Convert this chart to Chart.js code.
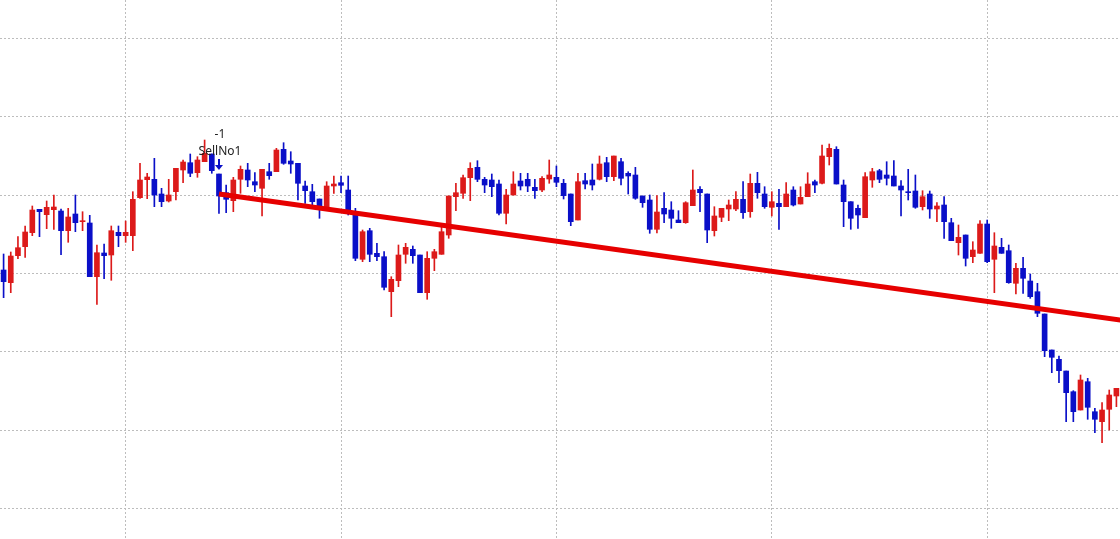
<!DOCTYPE html>
<html lang="en">
<head>
<meta charset="UTF-8">
<title>Candles</title>
<script src="https://cdn.jsdelivr.net/npm/chart.js"></script>
<style>
    html, body { margin: 0; padding: 0; background: #fff; }
    .wrap { width: 1120px; height: 539px; position: relative; }
</style>
</head>
<body>
<div class="wrap"><canvas id="candles"></canvas></div>
<script>
    // bar data (price units, 156 bars)
    const opens = [
        269, 256.3, 283.3, 292.3, 306.3, 329.7, 324.3, 329.3, 328, 308.3,
        325, 317.3, 316, 262.3, 286, 284, 306.7, 303.3, 303.3, 341.3,
        359.3, 359.7, 345, 338, 347.3, 369, 376.3, 366.3, 377.3, 385,
        365, 346.3, 338.3, 359.7, 369, 357.3, 350.7, 367.3, 367.3, 389.7,
        378, 375.7, 353, 347.3, 340, 330.7, 353, 356.3, 349, 324,
        279.7, 308.3, 285.7, 282.3, 247.3, 258.3, 284.7, 289.7, 284, 246.3,
        280.7, 284.7, 304, 342.3, 345.7, 361.3, 371.7, 359.7, 359, 355,
        325.7, 344, 358, 359.7, 351.7, 349, 360, 361.7, 355.7, 345,
        319, 358.3, 359, 359.7, 376.3, 362.3, 377.3, 365.7, 364, 343,
        339, 309.7, 330.7, 329, 319, 316.3, 333.3, 349.7, 345, 308.3,
        321.7, 330, 330, 339.7, 327.3, 355.7, 345, 331.7, 335.7, 332.3,
        349, 335, 342.3, 357.3, 355.7, 382.3, 389.7, 354, 337.3, 330.7,
        321.3, 359, 368.3, 364, 363, 353, 347, 348, 332.3, 345,
        330, 334, 316.3, 296.3, 304, 282.3, 285.7, 315, 279.7, 291.7,
        288.3, 255.7, 270.7, 258, 247.3, 225, 189, 179.7, 168, 147.3,
        129, 157.3, 127.3, 117.3, 129.7, 143
    ];
    const highs = [
        285, 287, 302.3, 313, 333, 329.7, 338, 344, 330, 330.7,
        344, 327.3, 323.7, 294, 295, 313, 313, 318, 347.3, 375.7,
        365.7, 380.7, 350.7, 359.7, 370.7, 379, 385, 382.3, 399, 385,
        365, 354, 361.7, 373, 375.7, 366.3, 369.7, 375.7, 390.7, 396.3,
        387.3, 375.7, 358, 354.7, 340, 357.3, 363, 363, 363, 330.7,
        309, 310.7, 295.7, 287.3, 262.3, 294, 295.7, 293, 284, 287.3,
        289.7, 313, 343, 355.7, 364, 376.3, 378.3, 361.7, 365, 359,
        349.7, 367.3, 365.7, 365.7, 359.7, 362.3, 379, 373, 359.7, 345,
        365.7, 365.7, 375, 383, 381.7, 383, 380.7, 367.3, 371.7, 343,
        344, 343.5, 346.3, 337.3, 328.3, 337.3, 369, 352.3, 345, 332.3,
        330.7, 339, 347.3, 357.3, 365, 366.7, 352.3, 347.3, 349.7, 356.3,
        352.3, 352.3, 366.3, 359, 394, 395, 392.3, 359, 337.3, 334,
        366.3, 370.7, 369.7, 377.3, 378.3, 358.3, 369.7, 364, 348.3, 348,
        336.3, 342.3, 320.7, 314, 304, 297.3, 318.3, 319, 306.3, 300.7,
        294, 275.7, 281.7, 265, 255.7, 225, 189, 183, 168, 148.3,
        164, 160.7, 130.7, 136.3, 149, 150.7
    ];
    const lows = [
        241.3, 246.3, 280.3, 281.7, 303.3, 302.3, 310.3, 309.7, 284.3, 296.7,
        307.3, 308.3, 262.3, 234.7, 260.3, 258.7, 292.3, 296.7, 288.3, 340.7,
        340.3, 332.3, 332.3, 337, 339, 356.3, 362.3, 361.7, 377.3, 365.7,
        325.7, 326.3, 327.3, 345.7, 352.3, 347.3, 323, 359.7, 367.3, 374.7,
        365.7, 339, 335.7, 334, 320.7, 329, 345.7, 346.3, 324, 278.3,
        277.3, 277.3, 278.3, 249, 222.3, 252.3, 275.7, 275.7, 246.3, 239.7,
        268.3, 284.7, 300.7, 328.3, 340.7, 338.3, 357.3, 346.3, 342.3, 324,
        315, 344, 349, 347.3, 340.7, 347.3, 355.7, 352.3, 340, 313.3,
        319, 350, 349, 359, 357.3, 358.3, 354, 345, 339.7, 331.7,
        305.7, 306, 316.3, 310.7, 316.3, 315.7, 333.3, 327.3, 296.3, 303,
        317.3, 318.3, 328.3, 320.7, 321.7, 340.7, 330.7, 323, 309.7, 332.3,
        333, 335, 342.3, 346.3, 355, 374, 355, 312.3, 309.7, 310.7,
        321.3, 351.7, 356.3, 354, 353, 323, 339, 330.7, 329, 320.7,
        317.3, 300.7, 298.3, 284, 273, 276.3, 285.7, 276.3, 246.3, 285.7,
        255.7, 245, 245.7, 240.7, 222.3, 182.3, 166.3, 156.3, 117.3, 117.3,
        129, 119.7, 106.3, 96.3, 109, 132.3
    ];
    const closes = [
        257.3, 283, 291.3, 307, 329, 327.3, 331.7, 332, 308.3, 322,
        316.3, 318.3, 262.3, 286.3, 283.3, 308.3, 303.3, 306.7, 339.7, 359,
        362, 344, 337.3, 344, 370.7, 377, 365.7, 379, 385.7, 368.3,
        343, 339.7, 359, 369.7, 359, 354, 369.7, 363.3, 389, 375.7,
        375, 355.7, 348.3, 337.3, 333, 353, 355, 353.7, 325.7, 280.7,
        307.3, 284.7, 282.3, 251.7, 259.7, 284, 291.7, 283.3, 246.3, 280.7,
        287.3, 307.3, 343, 346.3, 361.3, 370.7, 359.7, 354, 352.3, 325.7,
        344, 355, 353, 353, 348.3, 360.7, 364, 356.7, 343.3, 317.3,
        357.3, 355, 354, 375, 362.3, 383, 360.7, 363, 340.7, 336.3,
        309.7, 327, 325, 320.7, 316.3, 336.3, 349, 346.3, 309, 323,
        330.7, 334, 339.7, 326.3, 355.7, 346.3, 332.3, 337.3, 332.3, 345,
        334, 341.7, 355, 354, 383, 390.7, 355, 337.3, 320.7, 324,
        362.3, 367.3, 359.7, 360.7, 353, 349, 346.3, 331.7, 342.3, 330,
        333, 317.3, 298.3, 301.7, 280.7, 289, 315, 277.3, 293, 285.7,
        256.3, 270.7, 260.7, 242.3, 225.7, 188.3, 181.7, 168.3, 146.3, 127.3,
        159, 131.7, 119.7, 129, 144, 150.7
    ];

    // trend line (bar index, price) and the signal mark
    const trendLine = [{ x: 30, y: 345 }, { x: 156, y: 218.5 }];
    const signalBar = 30;
    const signalText = ['-1', 'SellNo1'];

    // grid positions
    const xGridAt = [17, 47, 77, 107, 137];
    const yGridAt = [30.7, 109, 187.3, 265.7, 344, 422.3, 500.7];

    const upColor = '#dc1a1a';
    const downColor = '#0a0fc8';
    const gridColor = '#bdbdbd';

    const bars = opens.map((_, i) => i);
    const barColors = opens.map((o, i) => closes[i] >= o ? upColor : downColor);

    // arrow + text over the signal bar
    const signalPlugin = {
        id: 'signal',
        afterDatasetsDraw(chart) {
            const c = chart.ctx;
            const x = chart.scales.x.getPixelForValue(signalBar);
            const top = chart.scales.y.getPixelForValue(highs[signalBar]);
            c.save();
            c.strokeStyle = downColor;
            c.fillStyle = downColor;
            c.lineWidth = 2;
            c.beginPath();
            c.moveTo(x, top - 15);
            c.lineTo(x, top - 8);
            c.stroke();
            c.beginPath();
            c.moveTo(x - 4, top - 9);
            c.lineTo(x + 4, top - 9);
            c.lineTo(x, top - 4);
            c.closePath();
            c.fill();
            c.fillStyle = '#222';
            c.font = '12px "Noto Sans", sans-serif';
            c.textAlign = 'center';
            c.textBaseline = 'middle';
            c.fillText(signalText[0], x + 1, top - 39);
            c.fillText(signalText[1], x + 1, top - 22);
            c.restore();
        }
    };

    new Chart(document.getElementById('candles'), {
        type: 'bar',
        data: {
            labels: bars,
            datasets: [{
                // wicks
                data: lows.map((l, i) => [l, highs[i]]),
                backgroundColor: barColors,
                barThickness: 1,
                grouped: false,
                order: 3
            }, {
                // bodies
                data: opens.map((o, i) => [o, closes[i]]),
                backgroundColor: barColors,
                barThickness: 5,
                minBarLength: 1,
                grouped: false,
                order: 2
            }, {
                type: 'line',
                xAxisID: 'xl',
                data: trendLine,
                borderColor: '#e60000',
                borderWidth: 5,
                pointRadius: 0,
                order: 1
            }]
        },
        options: {
            responsive: true,
            maintainAspectRatio: false,
            animation: false,
            layout: { padding: 0 },
            plugins: {
                legend: { display: false },
                tooltip: { enabled: false }
            },
            scales: {
                x: {
                    offset: true,
                    ticks: { display: false },
                    grid: {
                        offset: false,
                        drawTicks: false,
                        color: c => xGridAt.includes(c.tick && c.tick.value) ? gridColor : 'rgba(0,0,0,0)'
                    },
                    border: { display: false, dash: [2, 2] }
                },
                xl: {
                    type: 'linear',
                    display: false,
                    offset: false,
                    min: -0.5,
                    max: bars.length - 0.5
                },
                y: {
                    min: 0,
                    max: 539,
                    ticks: { display: false },
                    grid: { drawTicks: false, color: gridColor },
                    border: { display: false, dash: [2, 2] },
                    afterBuildTicks: s => { s.ticks = yGridAt.map(v => ({ value: v })); }
                }
            }
        },
        plugins: [signalPlugin]
    });
</script>
</body>
</html>
